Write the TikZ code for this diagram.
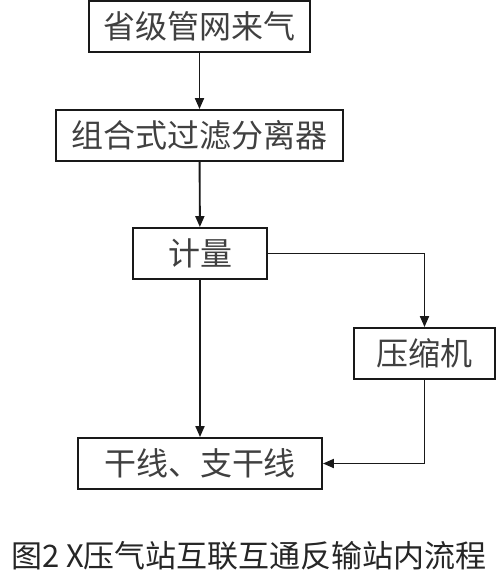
\documentclass[tikz,border=0pt]{standalone}
\usepackage{fontspec}
\newfontfamily\cjk{Noto Sans CJK SC}
\usepackage{tikz}
\usetikzlibrary{arrows.meta,calc,positioning}

\begin{document}
\begin{tikzpicture}[x=1pt,y=-1pt,>={Triangle[length=11pt,width=9pt]},
 flow/.style={->,line width=1.9pt,draw=black!90},
 stage/.style={draw=black!90,line width=1.9pt,minimum height=51pt,inner sep=0pt,
  font=\cjk\fontsize{32}{36}\selectfont,text=black!75},
 every node/.style={inner sep=1pt}]
\useasboundingbox (0,0) rectangle (500,571);
% stations of the flow
\node[stage,minimum width=221pt] (laiqi) at (199.5,26.5) {省级管网来气};
\node[stage,minimum width=287pt] (guolv) at (199.5,135.5) {组合式过滤分离器};
\node[stage,minimum width=134pt] (jiliang) at (200,253.5) {计量};
\node[stage,minimum width=141pt] (yasuo) at (424.5,353.5) {压缩机};
\node[stage,minimum width=244pt] (ganxian) at (200,463.5) {干线、支干线};
% connectors
\draw[flow] (laiqi) -- (guolv);
\draw[flow] (guolv) -- (jiliang);
\draw[flow] (jiliang) -- (ganxian);
\draw[flow] (jiliang.east) -| (yasuo.north);
\draw[flow] (yasuo.south) |- (ganxian.east);
\node[font=\cjk\fontsize{31}{34}\selectfont,text=black!85] (caption) at (249,556) {图2 X压气站互联互通反输站内流程};
\end{tikzpicture}
\end{document}
